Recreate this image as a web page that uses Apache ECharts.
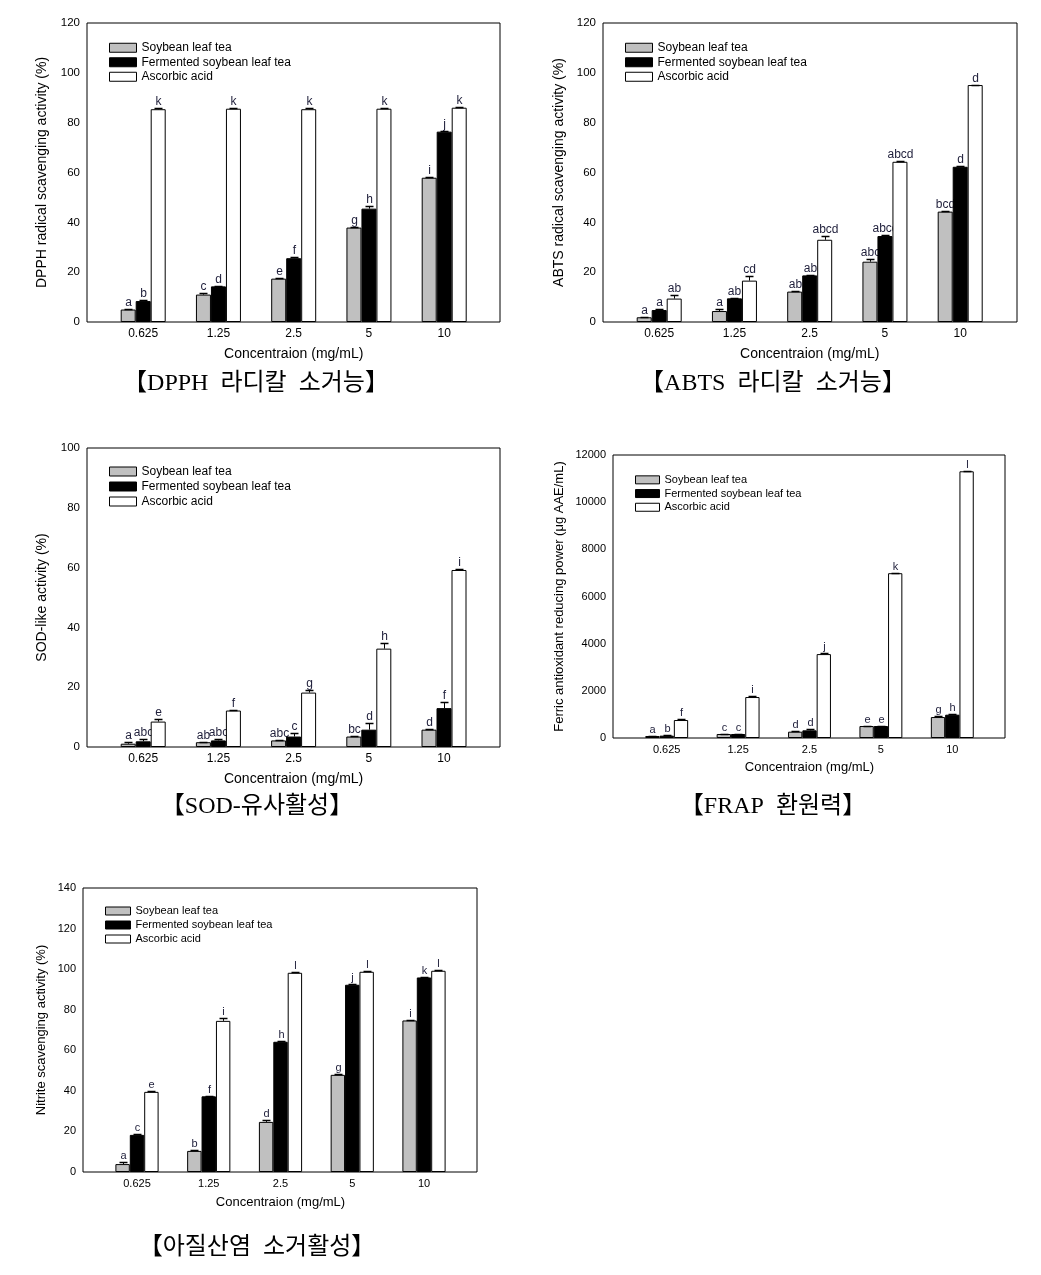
<!DOCTYPE html>
<html><head><meta charset="utf-8">
<script src="https://cdn.jsdelivr.net/npm/echarts@6/dist/echarts.min.js"></script>
<style>html,body{margin:0;padding:0;background:#fff}#c{width:1041px;height:1275px}</style>
</head><body><div id="c"></div>
<script>
// ---------- data ----------
const categories = ['0.625', '1.25', '2.5', '5', '10'];
const seriesNames = ['Soybean leaf tea', 'Fermented soybean leaf tea', 'Ascorbic acid'];

// DPPH radical scavenging activity (%)
const dpphSoybean = [5.0, 11.0, 17.4, 37.9, 57.9];
const dpphFermented = [8.4, 14.3, 25.6, 45.5, 76.4];
const dpphAscorbic = [85.4, 85.6, 85.4, 85.6, 86.0];
const dpphSoybeanErr = [0.2, 0.8, 0.2, 0.3, 0.4];
const dpphFermentedErr = [0.3, 0.3, 0.3, 1.1, 0.2];
const dpphAscorbicErr = [0.3, 0.2, 0.3, 0.2, 0.2];
const dpphSoybeanLetters = ['a', 'c', 'e', 'g', 'i'];
const dpphFermentedLetters = ['b', 'd', 'f', 'h', 'j'];
const dpphAscorbicLetters = ['k', 'k', 'k', 'k', 'k'];

// ABTS radical scavenging activity (%)
const abtsSoybean = [1.9, 4.4, 12.2, 24.2, 44.3];
const abtsFermented = [4.8, 9.5, 18.7, 34.5, 62.3];
const abtsAscorbic = [9.4, 16.6, 33.0, 64.3, 95.1];
const abtsSoybeanErr = [0.3, 0.9, 0.3, 0.9, 0.3];
const abtsFermentedErr = [0.3, 0.2, 0.3, 0.3, 0.2];
const abtsAscorbicErr = [1.6, 1.7, 1.5, 0.2, 0.2];
const abtsSoybeanLetters = ['a', 'a', 'ab', 'abc', 'bcd'];
const abtsFermentedLetters = ['a', 'ab', 'ab', 'abcd', 'd'];
const abtsAscorbicLetters = ['ab', 'cd', 'abcd', 'abcd', 'd'];

// SOD-like activity (%)
const sodSoybean = [1.1, 1.6, 2.2, 3.5, 5.8];
const sodFermented = [1.9, 2.2, 3.5, 5.8, 13.0];
const sodAscorbic = [8.5, 12.2, 18.2, 32.9, 59.2];
const sodSoybeanErr = [0.6, 0.2, 0.2, 0.2, 0.2];
const sodFermentedErr = [0.8, 0.5, 1.2, 2.3, 2.0];
const sodAscorbicErr = [0.7, 0.2, 0.9, 1.9, 0.2];
const sodSoybeanLetters = ['a', 'ab', 'abc', 'bc', 'd'];
const sodFermentedLetters = ['abc', 'abc', 'c', 'd', 'f'];
const sodAscorbicLetters = ['e', 'f', 'g', 'h', 'i'];

// FRAP (ug AAE/mL)
const frapSoybean = [85, 170, 268, 508, 889];
const frapFermented = [100, 170, 325, 508, 988];
const frapAscorbic = [762, 1737, 3558, 6988, 11309];
const frapSoybeanErr = [20, 20, 30, 20, 30];
const frapFermentedErr = [20, 20, 40, 20, 40];
const frapAscorbicErr = [40, 40, 50, 20, 20];
const frapSoybeanLetters = ['a', 'c', 'd', 'e', 'g'];
const frapFermentedLetters = ['b', 'c', 'd', 'e', 'h'];
const frapAscorbicLetters = ['f', 'i', 'j', 'k', 'l'];

// Nitrite scavenging activity (%)
const nitriteSoybean = [3.9, 10.4, 24.7, 47.9, 74.7];
const nitriteFermented = [18.3, 37.3, 64.2, 92.3, 95.9];
const nitriteAscorbic = [39.5, 74.5, 98.2, 98.7, 99.2];
const nitriteSoybeanErr = [1.1, 0.3, 1.0, 0.3, 0.3];
const nitriteFermentedErr = [0.2, 0.3, 0.2, 0.2, 0.3];
const nitriteAscorbicErr = [0.3, 1.3, 0.2, 0.2, 0.2];
const nitriteSoybeanLetters = ['a', 'b', 'd', 'g', 'i'];
const nitriteFermentedLetters = ['c', 'f', 'h', 'j', 'k'];
const nitriteAscorbicLetters = ['e', 'i', 'l', 'l', 'l'];

const xAxisTitle = 'Concentraion (mg/mL)';
const yTitles = [
  'DPPH radical scavenging activity (%)',
  'ABTS radical scavenging activity (%)',
  'SOD-like activity (%)',
  'Ferric antioxidant reducing power (\u03bcg AAE/mL)',
  'Nitrite scavenging activity (%)'
];
const captions = ['【DPPH  라디칼  소거능】', '【ABTS  라디칼  소거능】', '【SOD-유사활성】', '【FRAP  환원력】', '【아질산염  소거활성】'];

// ---------- layout ----------
const FONT = '"Liberation Sans", Arial, sans-serif';
const panels = [
  { frame: [87, 23, 413, 299], c0: 143.2, step: 75.25, bw: 15, yMax: 120, yStep: 20,
    values: [dpphSoybean, dpphFermented, dpphAscorbic], errs: [dpphSoybeanErr, dpphFermentedErr, dpphAscorbicErr],
    letters: [dpphSoybeanLetters, dpphFermentedLetters, dpphAscorbicLetters],
    tickFont: 11.5, xFont: 12, nameFont: 14, yNameGap: 38, xNameGap: 25, letterFont: 12,
    legend: { left: 104, top: 35.5, w: 27, h: 9, font: 12, lh: 14.5 }, cap: [256, 384] },
  { frame: [603, 23, 414, 299], c0: 659.2, step: 75.25, bw: 15, yMax: 120, yStep: 20,
    values: [abtsSoybean, abtsFermented, abtsAscorbic], errs: [abtsSoybeanErr, abtsFermentedErr, abtsAscorbicErr],
    letters: [abtsSoybeanLetters, abtsFermentedLetters, abtsAscorbicLetters],
    tickFont: 11.5, xFont: 12, nameFont: 14, yNameGap: 37, xNameGap: 25, letterFont: 12,
    legend: { left: 620, top: 35.5, w: 27, h: 9, font: 12, lh: 14.5 }, cap: [773, 384] },
  { frame: [87, 448, 413, 299], c0: 143.2, step: 75.2, bw: 15, yMax: 100, yStep: 20,
    values: [sodSoybean, sodFermented, sodAscorbic], errs: [sodSoybeanErr, sodFermentedErr, sodAscorbicErr],
    letters: [sodSoybeanLetters, sodFermentedLetters, sodAscorbicLetters],
    tickFont: 11.5, xFont: 12, nameFont: 14, yNameGap: 38, xNameGap: 25, letterFont: 12,
    legend: { left: 104, top: 459, w: 27, h: 9, font: 12, lh: 15 }, cap: [257, 807] },
  { frame: [613, 455, 392, 283], c0: 666.7, step: 71.4, bw: 14.3, yMax: 12000, yStep: 2000,
    values: [frapSoybean, frapFermented, frapAscorbic], errs: [frapSoybeanErr, frapFermentedErr, frapAscorbicErr],
    letters: [frapSoybeanLetters, frapFermentedLetters, frapAscorbicLetters],
    tickFont: 11, xFont: 11, nameFont: 13, yNameGap: 47, xNameGap: 23, letterFont: 11,
    legend: { left: 630, top: 468, w: 24, h: 8, font: 11, lh: 13.7 }, cap: [773, 807] },
  { frame: [83, 888, 394, 284], c0: 137, step: 71.75, bw: 14.4, yMax: 140, yStep: 20,
    values: [nitriteSoybean, nitriteFermented, nitriteAscorbic], errs: [nitriteSoybeanErr, nitriteFermentedErr, nitriteAscorbicErr],
    letters: [nitriteSoybeanLetters, nitriteFermentedLetters, nitriteAscorbicLetters],
    tickFont: 11, xFont: 11, nameFont: 13, yNameGap: 35, xNameGap: 24, letterFont: 11,
    legend: { left: 100, top: 899, w: 25, h: 8, font: 11, lh: 14 }, cap: [257, 1248] }
];

const fills = ['#c0c0c0', '#000000', '#ffffff'];

const option = { animation: false, backgroundColor: '#fff', grid: [], xAxis: [], yAxis: [], series: [], legend: [], graphic: [] };

panels.forEach((p, k) => {
  const [fl, ft, fw, fh] = p.frame;
  const barLeft = p.c0 - p.step / 2;
  const barWidthTotal = p.step * 5;
  // frame grid
  option.grid.push({ left: fl, top: ft, width: fw, height: fh, show: true, borderColor: '#000', borderWidth: 1, backgroundColor: 'transparent' });
  option.xAxis.push({ gridIndex: 2 * k, type: 'value', show: false });
  option.yAxis.push({ gridIndex: 2 * k, type: 'value', show: false });
  // bar grid
  option.grid.push({ left: barLeft, top: ft, width: barWidthTotal, height: fh, show: false });
  option.xAxis.push({
    gridIndex: 2 * k + 1, type: 'category', data: categories,
    axisLine: { show: false }, axisTick: { show: false }, splitLine: { show: false },
    axisLabel: { color: '#000', fontFamily: FONT, fontSize: p.xFont, margin: 6 },
    name: xAxisTitle, nameLocation: 'middle', nameGap: p.xNameGap,
    nameTextStyle: { color: '#000', fontFamily: FONT, fontSize: p.nameFont }
  });
  option.yAxis.push({
    gridIndex: 2 * k + 1, type: 'value', min: 0, max: p.yMax, interval: p.yStep,
    offset: barLeft - fl,
    axisLine: { show: false }, axisTick: { show: false }, splitLine: { show: false },
    axisLabel: { color: '#000', fontFamily: FONT, fontSize: p.tickFont, margin: 7, formatter: v => String(v) },
    name: yTitles[k], nameLocation: 'middle', nameGap: p.yNameGap,
    nameTextStyle: { color: '#000', fontFamily: FONT, fontSize: p.nameFont }
  });
  for (let s = 0; s < 3; s++) {
    option.series.push({
      type: 'bar', name: seriesNames[s], xAxisIndex: 2 * k + 1, yAxisIndex: 2 * k + 1,
      data: p.values[s], barWidth: p.bw, barGap: '0%', z: 2 + 2 * s,
      itemStyle: { color: fills[s], borderColor: '#000', borderWidth: 1 },
      emphasis: { disabled: true }
    });
    const vals = p.values[s], errs = p.errs[s], lets = p.letters[s];
    const bw = p.bw, lf = p.letterFont;
    option.series.push({
      type: 'custom', xAxisIndex: 2 * k + 1, yAxisIndex: 2 * k + 1, z: 3 + 2 * s,
      data: vals.map((v, i) => [i, v, errs[i]]),
      renderItem: (params, api) => {
        const i = api.value(0), v = api.value(1), e = api.value(2);
        const base = api.coord([i, v]);
        const top = api.coord([i, v + e]);
        const x = Math.round(base[0] + (s - 1) * bw) + 0.5;
        const yt = Math.round(top[1]) + 0.5;
        const cap = 4;
        const ch = [];
        if (e > 0) {
          ch.push({ type: 'line', shape: { x1: x, y1: base[1], x2: x, y2: yt }, style: { stroke: '#000', lineWidth: 1 } });
          ch.push({ type: 'line', shape: { x1: x - cap, y1: yt, x2: x + cap, y2: yt }, style: { stroke: '#000', lineWidth: 1.5 } });
        }
        ch.push({ type: 'text', style: { text: lets[params.dataIndex], x: x, y: yt - 1, align: 'center', verticalAlign: 'bottom', fontSize: lf, fontFamily: FONT, fill: '#1e1e3a' } });
        return { type: 'group', children: ch };
      }
    });
  }
  option.legend.push({
    orient: 'vertical', left: p.legend.left, top: p.legend.top, itemWidth: p.legend.w, itemHeight: p.legend.h,
    itemGap: 0, data: seriesNames, selectedMode: false, icon: 'rect',
    itemStyle: { borderWidth: 1, borderColor: '#000' },
    textStyle: { color: '#000', fontFamily: FONT, fontSize: p.legend.font, lineHeight: p.legend.lh }
  });
  option.graphic.push({
    type: 'text', x: p.cap[0], y: p.cap[1],
    style: { text: captions[k], align: 'center', verticalAlign: 'middle', fontSize: 24, fontFamily: '"Liberation Serif", "Noto Sans CJK KR", serif', fill: '#000' }
  });
});

const chart = echarts.init(document.getElementById('c'), null, { renderer: 'canvas' });
chart.setOption(option);
</script>
</body></html>
